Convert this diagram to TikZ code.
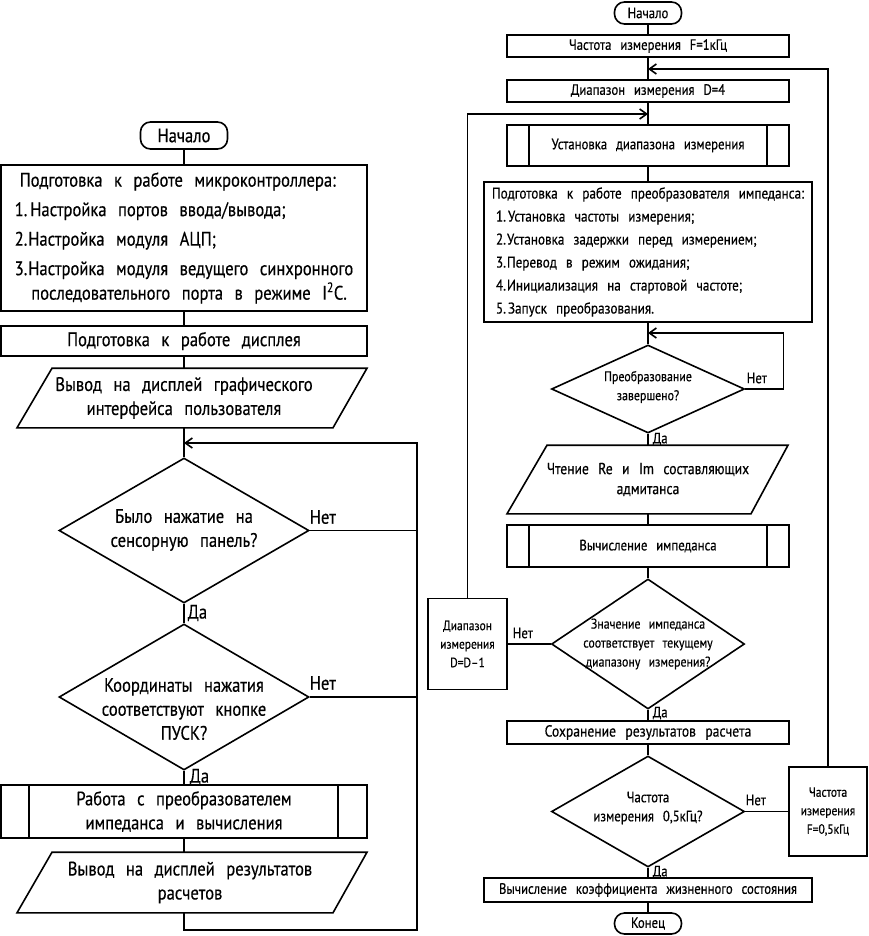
\documentclass[tikz,border=0pt]{standalone}
\usepackage{fontspec}
\setmainfont{PT Sans}[FakeStretch=0.85,WordSpace=2.6,FakeBold=0.4]
\usetikzlibrary{arrows.meta,shapes.geometric}
\newcommand\fL{\fontsize{19.5}{24}\selectfont}
\newcommand\fLb{\fontsize{19.5}{29.5}\selectfont}
\newcommand\fR{\fontsize{15}{19}\selectfont}
\newcommand\fRl{\fontsize{16}{20}\selectfont}
\newcommand\fRb{\fontsize{15.5}{23}\selectfont}
\newcommand\fRs{\fontsize{13.5}{18.5}\selectfont}
\newcommand\fRd{\fontsize{14}{19}\selectfont}
\begin{document}
\begin{tikzpicture}[x=1pt,y=-1pt,line width=1.6pt,
  every node/.style={inner sep=0pt,align=center},
  term/.style={draw,rectangle,rounded corners=10pt},
  proc/.style={draw,rectangle},
  dia/.style={draw,diamond,inner sep=0pt},
  arr/.style={-{Straight Barb[length=7pt,width=10pt]}},
  lab/.style={anchor=west}]
\fill[white] (0,0) rectangle (869,936);
\useasboundingbox (0,0) rectangle (869,936);

% ---------------- left column ----------------
\node[term,minimum width=87,minimum height=27,font=\fL] (ls) at (184,135.5) {Начало};
\node[proc,minimum width=366,minimum height=146,font=\fLb,align=left] (l1) at (184,238)
 {\hspace*{5pt}Подготовка к работе микроконтроллера:\\1.\hspace{3pt}Настройка портов ввода/вывода;\\2.\hspace{1pt}Настройка модуля АЦП;\\3.\hspace{1pt}Настройка модуля ведущего синхронного\\[-5pt]\hspace*{0.85em}последовательного порта в режиме I\textsuperscript{2}C.};
\node[proc,minimum width=366,minimum height=30,font=\fL] (l2) at (184,341) {Подготовка к работе дисплея};
\node[minimum height=58,font=\fL] (io1) at (184,398) {Вывод на дисплей графического\\интерфейса пользователя};
\draw ([xshift=-132]io1.north) -- ([xshift=183]io1.north) -- ([xshift=149]io1.south) -- ([xshift=-167]io1.south) -- cycle;
\node[dia,minimum width=250,minimum height=145] (d1) at (184,530.5) {};
\node[font=\fL] (d1t) at (184,530) {Было нажатие на\\сенсорную панель?};
\node[dia,minimum width=250,minimum height=146] (d2) at (184,697) {};
\node[font=\fL] (d2t) at (184,709) {Координаты нажатия\\соответствуют кнопке\\ПУСК?};
\node[proc,minimum width=366,minimum height=53,font=\fL] (l3) at (184,811.5) {Работа с преобразователем\\импеданса и вычисления};
\draw ([xshift=29]l3.north west) -- ([xshift=29]l3.south west);
\draw ([xshift=-30]l3.north east) -- ([xshift=-30]l3.south east);
\node[minimum height=59,font=\fL] (io2) at (184,882.5) {\hspace*{12pt}Вывод на дисплей результатов\\\hspace*{12pt}расчетов};
\draw ([xshift=-132]io2.north) -- ([xshift=183]io2.north) -- ([xshift=149]io2.south) -- ([xshift=-167]io2.south) -- cycle;

\coordinate (lj) at (184,443);
\coordinate (lr) at (417,930);

\draw (ls.south) -- (l1.north);
\draw (l1.south) -- (l2.north);
\draw (l2.south) -- (io1.north);
\draw (io1.south) -- (d1.north);
\draw (d1.south) -- (d2.north);
\draw (d2.south) -- (l3.north);
\draw (l3.south) -- (io2.north);
\draw[arr] (io2.south) |- (lr) |- (lj);
\draw (d1.east) -- (d1.east -| lr);
\draw (d2.east) -- (d2.east -| lr);

\node[lab,font=\fL] (ln1) at (309,517) {Нет};
\node[lab,font=\fL] (ln2) at (309,683) {Нет};
\node[lab,font=\fL] (ly1) at (187,613) {Да};
\node[lab,font=\fL] (ly2) at (189,777) {Да};

% ---------------- right column ----------------
\node[term,minimum width=67,minimum height=22,font=\fR] (rs) at (648,13) {Начало};
\node[proc,minimum width=282,minimum height=22,font=\fR] (r1) at (648,46) {Частота измерения F=1кГц};
\node[proc,minimum width=282,minimum height=22,font=\fR] (r2) at (648,91) {Диапазон измерения D=4};
\node[proc,minimum width=282,minimum height=41,font=\fR] (r3) at (648,145.5) {Установка диапазона измерения};
\draw ([xshift=23]r3.north west) -- ([xshift=23]r3.south west);
\draw ([xshift=-23]r3.north east) -- ([xshift=-23]r3.south east);
\node[proc,minimum width=328,minimum height=140,font=\fRb,align=left] (r4) at (648,252)
 {Подготовка к работе преобразователя импеданса:\\\hspace*{4pt}1.\hspace{2pt}Установка частоты измерения;\\\hspace*{4pt}2.\hspace{1pt}Установка задержки перед измерением;\\\hspace*{4pt}3.\hspace{1pt}Перевод в режим ожидания;\\\hspace*{4pt}4.\hspace{1pt}Инициализация на стартовой частоте;\\\hspace*{4pt}5.\hspace{2pt}Запуск преобразования.};
\node[dia,minimum width=193,minimum height=88] (r5) at (648,389) {};
\node[font=\fRd] (r5t) at (648,387) {Преобразование\\завершено?};
\node[minimum height=67,font=\fRl] (r6) at (648,479.5) {Чтение Re и Im составляющих\\адмитанса};
\draw ([xshift=-101]r6.north) -- ([xshift=140]r6.north) -- ([xshift=103]r6.south) -- ([xshift=-141]r6.south) -- cycle;
\node[proc,minimum width=282,minimum height=42,font=\fR] (r7) at (648,546) {Вычисление импеданса};
\draw ([xshift=23]r7.north west) -- ([xshift=23]r7.south west);
\draw ([xshift=-23]r7.north east) -- ([xshift=-23]r7.south east);
\node[dia,minimum width=193,minimum height=130] (r8) at (648,644) {};
\node[font=\fRd] (r8t) at (648,644) {Значение импеданса\\соответствует текущему\\диапазону измерения?};
\node[proc,minimum width=79,minimum height=91,font=\fRs] (r9) at (467.5,644) {Диапазон\\измерения\\D=D–1};
\node[proc,minimum width=282,minimum height=23,font=\fRl] (r10) at (648,732.5) {Сохранение результатов расчета};
\node[dia,minimum width=193,minimum height=111] (r11) at (648,811.5) {};
\node[font=\fR] (r11t) at (648,808) {Частота\\измерения 0,5кГц?};
\node[proc,minimum width=78,minimum height=89,font=\fRs] (r12) at (828,811.5) {Частота\\измерения\\F=0,5кГц};
\node[proc,minimum width=328,minimum height=24,font=\fR] (r13) at (648,890) {Вычисление коэффициента жизненного состояния};
\node[term,minimum width=67,minimum height=21,font=\fR] (re) at (648,923.5) {Конец};

\coordinate (rj1) at (648,69);
\coordinate (rj2) at (648,114);
\coordinate (rj3) at (648,333);

\draw (rs.south) -- (r1.north);
\draw (r1.south) -- (r2.north);
\draw (r2.south) -- (r3.north);
\draw (r3.south) -- (r4.north);
\draw (r4.south) -- (r5.north);
\draw (r5.south) -- (r6.north);
\draw (r6.south) -- (r7.north);
\draw (r7.south) -- (r8.north);
\draw (r8.south) -- (r10.north);
\draw (r10.south) -- (r11.north);
\draw (r11.south) -- (r13.north);
\draw (r13.south) -- (re.north);
\draw[arr] (r12.north) |- (rj1);
\draw[arr] (r9.north) |- (rj2);
\draw[arr] (r5.east) -- ++(38,0) |- (rj3);
\draw (r8.west) -- (r9.east);
\draw (r11.east) -- (r12.west);

\node[lab,font=\fR] (rn1) at (746,378) {Нет};
\node[lab,font=\fR] (rn2) at (512,633) {Нет};
\node[lab,font=\fR] (rn3) at (745,800) {Нет};
\node[lab,font=\fR] (ry1) at (652,439) {Да};
\node[lab,font=\fR] (ry2) at (652,713) {Да};
\node[lab,font=\fR] (ry3) at (652,872) {Да};
\end{tikzpicture}
\end{document}
